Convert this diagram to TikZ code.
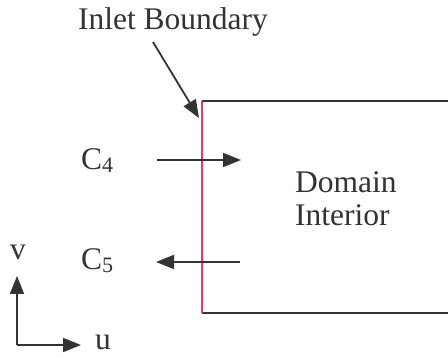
\documentclass[tikz,border=0pt]{standalone}
\usepackage{fontspec}
\setmainfont{Liberation Serif}
\usetikzlibrary{arrows.meta}
\definecolor{ink}{HTML}{333333}
\definecolor{inlet}{HTML}{E03A6E}
\tikzset{
  lbl/.style={inner sep=0pt, text=ink, font=\fontsize{31.5}{33}\selectfont},
  arr/.style={draw=ink, line width=1.8pt, -{Triangle[length=18pt,width=14pt]}},
  wall/.style={draw=ink, line width=1.6pt},
}
\newcommand{\subdig}[1]{\raisebox{-3pt}{\fontsize{22}{22}\selectfont #1}}
\begin{document}
\begin{tikzpicture}[x=1pt,y=-1pt]
\useasboundingbox (0,0) rectangle (448,358);
% domain
\coordinate (tl) at (202,101);
\coordinate (bl) at (202,313);
\coordinate (tr) at (448,101);
\coordinate (br) at (448,313);
\draw[wall] (tr) -- (tl);
\draw[wall] (bl) -- (br);
\draw[draw=inlet, line width=1.5pt] (tl) -- (bl);
% labels
\node[lbl, anchor=base] (inl) at (173,30) {Inlet Boundary};
\coordinate (inS) at (153,42);
\coordinate (inE) at (199,118);
\draw[arr] (inS) -- (inE);
\node[lbl, anchor=base west] (c4) at (81,170) {C\subdig{4}};
\coordinate (a4s) at (157,160);
\coordinate (a4e) at (241,160);
\draw[arr] (a4s) -- (a4e);
\node[lbl, anchor=base west] (c5) at (81,270) {C\subdig{5}};
\coordinate (a5s) at (240,262);
\coordinate (a5e) at (156,262);
\draw[arr] (a5s) -- (a5e);
\node[lbl, anchor=west, align=left] (dom) at (295,199) {Domain\\Interior};
% axes
\coordinate (o) at (17,345);
\coordinate (vy) at (17,276);
\coordinate (ux) at (81,345);
\draw[arr] (o) -- (vy);
\draw[arr] (o) -- (ux);
\node[lbl, anchor=base] (v) at (18,260) {v};
\node[lbl, anchor=base] (u) at (103,350) {u};
\end{tikzpicture}
\end{document}
